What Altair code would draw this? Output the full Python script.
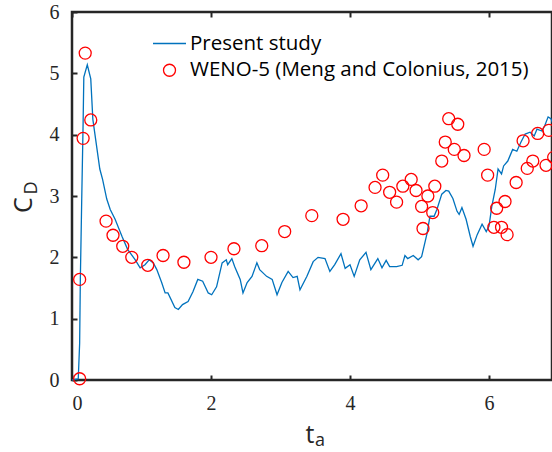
import altair as alt
import pandas as pd

# ---- data ----
t_present = [0.00, 0.09, 0.11, 0.12, 0.14, 0.16, 0.17, 0.22, 0.27, 0.30, 0.40, 0.44, 0.50, 0.55,
             0.62, 0.72, 0.80, 0.91, 0.98, 1.05, 1.11, 1.17, 1.22, 1.29, 1.34, 1.38, 1.48, 1.53,
             1.59, 1.67, 1.74, 1.81, 1.88, 1.96, 2.01, 2.08, 2.16, 2.22, 2.24, 2.30, 2.34, 2.42,
             2.46, 2.52, 2.59, 2.66, 2.70, 2.80, 2.88, 2.95, 3.02, 3.11, 3.18, 3.24, 3.28, 3.38,
             3.47, 3.54, 3.64, 3.71, 3.78, 3.87, 3.93, 4.00, 4.06, 4.14, 4.23, 4.30, 4.40, 4.46,
             4.52, 4.57, 4.67, 4.75, 4.79, 4.83, 4.91, 4.98, 5.03, 5.11, 5.15, 5.21, 5.25, 5.32,
             5.38, 5.42, 5.48, 5.54, 5.57, 5.61, 5.67, 5.73, 5.77, 5.83, 5.90, 5.96, 6.00, 6.04,
             6.09, 6.13, 6.18, 6.21, 6.27, 6.34, 6.40, 6.46, 6.52, 6.59, 6.65, 6.69, 6.76, 6.80,
             6.85, 6.89, 6.93]
cd_present = [0.00, 0.02, 0.60, 1.64, 2.95, 4.20, 4.94, 5.14, 4.91, 4.25, 3.44, 3.27, 2.95, 2.78,
              2.62, 2.34, 2.13, 1.96, 1.83, 1.88, 1.96, 1.91, 1.80, 1.59, 1.42, 1.42, 1.18, 1.15,
              1.23, 1.28, 1.44, 1.64, 1.61, 1.42, 1.39, 1.52, 1.91, 1.96, 1.88, 1.98, 1.85, 1.64,
              1.42, 1.59, 1.69, 1.91, 1.80, 1.69, 1.64, 1.39, 1.59, 1.77, 1.67, 1.69, 1.47, 1.69,
              1.93, 2.00, 1.98, 1.77, 1.88, 2.06, 1.82, 1.88, 1.69, 1.96, 2.08, 1.80, 1.98, 1.83,
              1.95, 1.85, 1.85, 1.87, 2.03, 1.98, 2.03, 1.96, 2.01, 2.40, 2.67, 2.67, 2.78, 3.03,
              3.09, 3.08, 2.96, 2.75, 2.70, 2.81, 2.62, 2.34, 2.18, 2.37, 2.54, 2.42, 2.51, 2.83,
              3.11, 3.44, 3.36, 3.49, 3.57, 3.76, 3.73, 3.88, 4.01, 4.04, 3.98, 4.09, 4.06, 4.14,
              4.29, 4.26, 4.15]

t_weno = [0.11, 0.11, 0.16, 0.19, 0.27, 0.49, 0.59, 0.73, 0.86, 1.09, 1.31, 1.61, 2.00, 2.33,
          2.73, 3.06, 3.45, 3.90, 4.16, 4.36, 4.47, 4.57, 4.67, 4.76, 4.88, 4.95, 5.03, 5.05,
          5.12, 5.19, 5.22, 5.32, 5.37, 5.42, 5.50, 5.55, 5.64, 5.93, 5.98, 6.07, 6.11, 6.18,
          6.23, 6.26, 6.39, 6.49, 6.55, 6.63, 6.70, 6.82, 6.86, 6.93]
cd_weno = [0.02, 1.64, 3.94, 5.33, 4.24, 2.59, 2.36, 2.18, 2.00, 1.87, 2.03, 1.92, 2.00, 2.14,
           2.19, 2.42, 2.68, 2.62, 2.84, 3.14, 3.34, 3.06, 2.90, 3.16, 3.27, 3.09, 2.83, 2.47,
           3.00, 2.73, 3.16, 3.57, 3.88, 4.26, 3.76, 4.17, 3.66, 3.76, 3.34, 2.49, 2.80, 2.49,
           2.91, 2.37, 3.22, 3.90, 3.45, 3.57, 4.02, 3.50, 4.07, 3.63]

x_ticks = [0, 2, 4, 6]
y_ticks = [0, 1, 2, 3, 4, 5, 6]
S1 = "Present study"
S2 = "WENO-5 (Meng and Colonius, 2015)"

line_df = pd.DataFrame({"t": t_present, "cd": cd_present, "series": S1})
pt_df = pd.DataFrame({"t": t_weno, "cd": cd_weno, "series": S2})
tick_df = pd.DataFrame({"t": x_ticks})
one_df = pd.DataFrame({"a": [0]})

XMAX = 6.906
AX = "#262626"
SERIF = "Liberation Serif, Times New Roman, serif"
SANS = "Open Sans"

xscale = alt.Scale(domain=[0, XMAX], nice=False, zero=False)
yscale = alt.Scale(domain=[0, 6], nice=False)

leg = alt.Legend(title=None, orient="none", legendX=80, legendY=14, labelFont=SANS,
                 labelFontSize=20.5, labelColor="#000000", labelOffset=3, rowPadding=6,
                 labelLimit=600, symbolStrokeWidth=1.3, padding=0)

color = alt.Color("series:N", scale=alt.Scale(domain=[S1, S2], range=["#0072BD", "#FF0000"]), legend=leg)
shape = alt.Shape("series:N", scale=alt.Scale(domain=[S1, S2], range=["stroke", "circle"]), legend=leg)
size = alt.Size("series:N", scale=alt.Scale(domain=[S1, S2], range=[1089, 144]), legend=leg)

x_bottom = alt.Axis(orient="bottom", values=x_ticks, domain=False, grid=False, title=None,
                    tickSize=5, tickWidth=2, tickColor=AX, offset=-5, labelPadding=13,
                    labelFont=SERIF, labelFontSize=20, labelColor=AX, format="d")
y_left = alt.Axis(orient="left", values=y_ticks, domain=False, grid=False, title=None,
                  tickSize=5, tickWidth=2, tickColor=AX, offset=-5, labelPadding=13,
                  labelFont=SERIF, labelFontSize=20, labelColor=AX, format="d")
x_top = alt.Axis(orient="top", values=x_ticks, domain=False, grid=False, title=None,
                 labels=False, tickSize=5, tickWidth=2, tickColor=AX, offset=-5)

line = alt.Chart(line_df).mark_line(strokeWidth=1.3).encode(
    x=alt.X("t:Q", scale=xscale, axis=x_bottom),
    y=alt.Y("cd:Q", scale=yscale, axis=y_left),
    color=color,
)

pts = alt.Chart(pt_df).mark_point(filled=False, strokeWidth=1.3, opacity=1).encode(
    x=alt.X("t:Q", scale=xscale, axis=None),
    y=alt.Y("cd:Q", scale=yscale, axis=y_left),
    color=color, shape=shape, size=size,
)

top = alt.Chart(tick_df).mark_point(opacity=0).encode(
    x=alt.X("t:Q", scale=xscale, axis=x_top),
    y=alt.value(0),
)

def txt(s, x, y, fs, angle=0):
    return alt.Chart(one_df).mark_text(font=SANS, fontSize=fs, color=AX, angle=angle,
                                       align="center", baseline="middle").encode(
        x=alt.value(x), y=alt.value(y), text=alt.value(s))

titles = [
    txt("C", -48, 193, 25, 270),
    txt("D", -40, 176, 18, 270),
    txt("t", 238, 423, 25),
    txt("a", 248, 429, 18),
]

chart = alt.layer(line, pts, top, *titles).resolve_axis(x="independent").properties(
    width=480, height=368, background="white",
    autosize=alt.AutoSizeParams(type="none"),
    padding={"left": 72, "top": 12, "right": 0, "bottom": 72},
).configure_view(stroke=AX, strokeWidth=2.5)

chart.save("out.html", embed_options={"renderer": "svg", "actions": False})
